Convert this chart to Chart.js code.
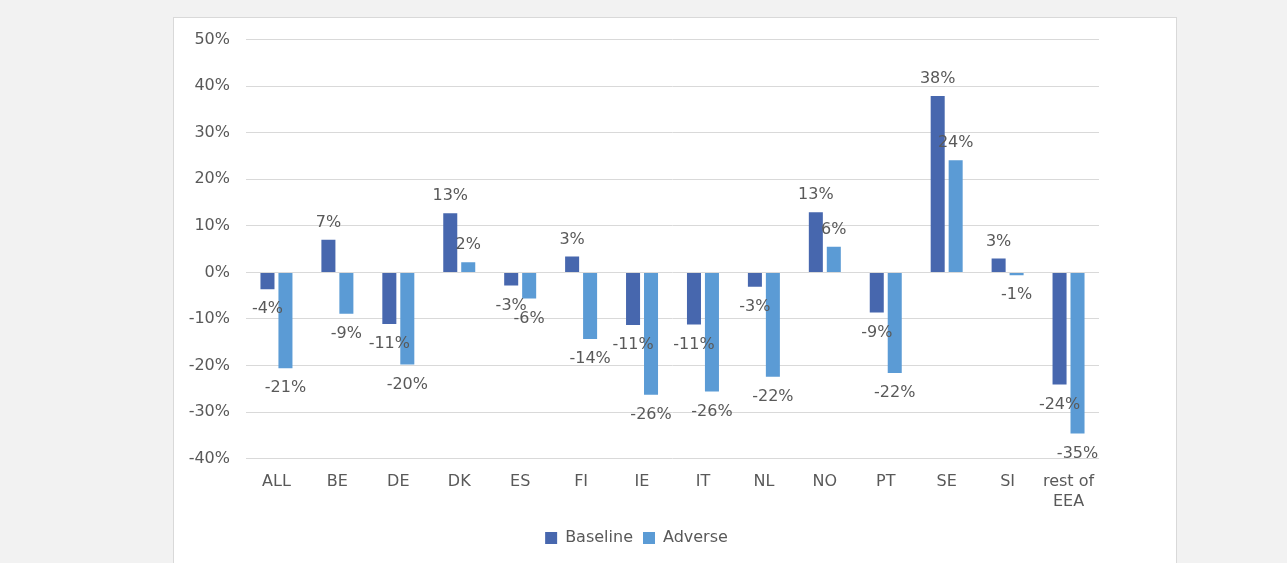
<!DOCTYPE html>
<html>
<head>
<meta charset="utf-8">
<script src="https://cdn.jsdelivr.net/npm/chart.js@4/dist/chart.umd.min.js"></script>
<style>
  html, body { margin: 0; padding: 0; background: #f2f2f2; }
  body { width: 1287px; height: 563px; overflow: hidden; position: relative; }
  #box { position: absolute; left: 173px; top: 17px; width: 1002px; height: 560px;
         background: #fff; border: 1px solid #d9d9d9; }
  #box canvas { display: block; margin-top: -4px; }
</style>
</head>
<body>
<div id="box"><canvas id="chart" width="1002" height="549"></canvas></div>
<script>
// categories and values (percent change)
const categories = ['ALL', 'BE', 'DE', 'DK', 'ES', 'FI', 'IE', 'IT', 'NL', 'NO', 'PT', 'SE', 'SI', ['rest of', 'EEA']];
const baseline = [-3.6, 7.0, -11.1, 12.7, -2.8, 3.4, -11.3, -11.2, -3.1, 12.9, -8.6, 37.9, 3.0, -24.1];
const adverse = [-20.6, -8.9, -19.8, 2.2, -5.6, -14.3, -26.3, -25.6, -22.4, 5.5, -21.6, 24.1, -0.6, -34.6];
const yTicks = [-40, -30, -20, -10, 0, 10, 20, 30, 40, 50];

const textColor = '#595959';
const fontFamily = '"DejaVu Sans", Verdana, sans-serif';

// data labels drawn at the end of each bar, like Excel's "outside end"
const barLabels = {
    id: 'barLabels',
    afterDatasetsDraw(chart) {
        const ctx = chart.ctx;
        ctx.save();
        ctx.font = '16px ' + fontFamily;
        ctx.fillStyle = textColor;
        ctx.textAlign = 'center';
        ctx.textBaseline = 'middle';
        chart.data.datasets.forEach((ds, i) => {
            chart.getDatasetMeta(i).data.forEach((bar, j) => {
                const v = ds.data[j];
                const txt = Math.round(v) + '%';
                const y = v >= 0 ? bar.y - 17 : bar.y + 20;
                ctx.fillText(txt, bar.x, y);
            });
        });
        ctx.restore();
    }
};

new Chart(document.getElementById('chart'), {
    type: 'bar',
    data: {
        labels: categories,
        datasets: [
            { label: 'Baseline', data: baseline, backgroundColor: '#4767ae' },
            { label: 'Adverse', data: adverse, backgroundColor: '#5b9bd5' }
        ]
    },
    options: {
        responsive: false,
        animation: false,
        categoryPercentage: 0.59,
        barPercentage: 0.78,
        layout: { padding: { left: 0, right: 77, top: 4, bottom: 7 } },
        scales: {
            y: {
                min: -40, max: 50,
                afterFit(scale) { scale.width = 72; },
                afterBuildTicks(scale) { scale.ticks = yTicks.map(v => ({ value: v })); },
                grid: { color: '#d9d9d9', drawTicks: false },
                border: { display: false },
                ticks: {
                    color: textColor, padding: 16,
                    font: { size: 16, family: fontFamily },
                    callback: v => v + '%'
                }
            },
            x: {
                afterFit(scale) { scale.height -= 5; },
                grid: { display: false, drawTicks: false },
                border: { display: false },
                ticks: {
                    color: textColor, padding: 14, maxRotation: 0, autoSkip: false,
                    font: { size: 16, family: fontFamily }
                }
            }
        },
        plugins: {
            legend: {
                position: 'bottom',
                labels: {
                    color: textColor, boxWidth: 12, boxHeight: 12, padding: 10,
                    font: { size: 16, family: fontFamily }
                }
            },
            tooltip: { enabled: false }
        }
    },
    plugins: [barLabels]
});
</script>
</body>
</html>
